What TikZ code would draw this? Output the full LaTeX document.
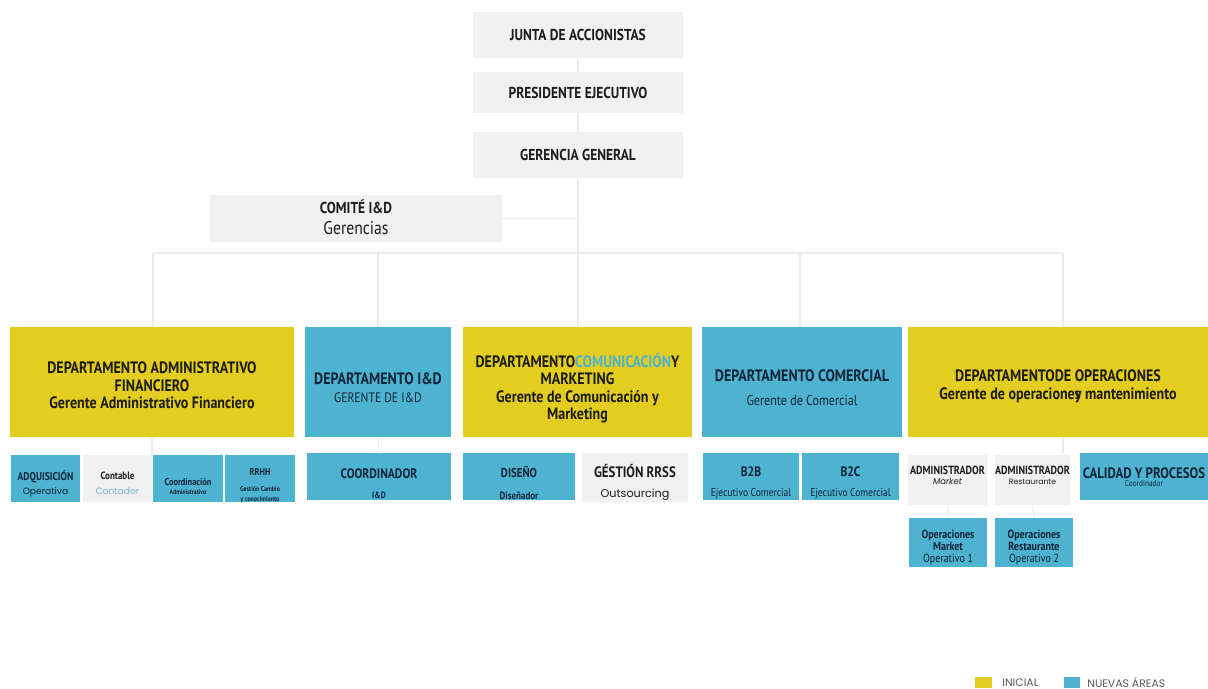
\documentclass[tikz,border=0pt]{standalone}
\usepackage{fontspec}
\setmainfont[FakeStretch=0.85]{PT Sans}
\newfontfamily\geo{Poppins}
\usetikzlibrary{fit}
\definecolor{yel}{RGB}{227,205,32}
\definecolor{blu}{RGB}{77,179,209}
\definecolor{gry}{RGB}{241,241,241}
\definecolor{ink}{RGB}{28,28,28}
\definecolor{navy}{RGB}{20,36,56}
\definecolor{lblue}{RGB}{120,180,210}
\definecolor{legtxt}{RGB}{90,90,90}
\begin{document}
\begin{tikzpicture}[x=0.02cm,y=-0.02cm,
  box/.style={inner sep=0pt},
  gbox/.style={box, fill=gry},
  ybox/.style={box, fill=yel},
  bbox/.style={box, fill=blu},
  txt/.style={inner sep=0pt, align=center, text=ink},
  btxt/.style={txt, text=navy},
  topf/.style={font=\bfseries\fontsize{9}{10}\selectfont},
  conn/.style={draw=black!8, line width=0.6pt},
  legtext/.style={inner sep=0pt, anchor=west, text=legtxt, font=\geo\fontsize{6.2}{7}\selectfont}]
\useasboundingbox (0,0) rectangle (1208,689);
\fill[white] (0,0) rectangle (1208,689);

% ---------- boxes ----------
\node[gbox, fit={(473,12)(683,58)}] (junta) {};
\node[gbox, fit={(473,72)(683,113)}] (pres) {};
\node[gbox, fit={(473,132)(683,178)}] (ger) {};
\node[gbox, fit={(210,195)(502,242)}] (comite) {};

\node[ybox, fit={(10,327)(294,437)}] (adm) {};
\node[bbox, fit={(305,327)(451,437)}] (ide) {};
\node[ybox, fit={(463,327)(692,437)}] (com) {};
\node[bbox, fit={(702,327)(902,437)}] (cml) {};
\node[ybox, fit={(908,327)(1208,437)}] (ope) {};

\node[bbox, fit={(11,455)(80,502)}] (adq) {};
\node[gbox, fit={(83,455)(152,502)}] (cont) {};
\node[bbox, fit={(153,455)(223,502)}] (coad) {};
\node[bbox, fit={(225,455)(295,502)}] (rrhh) {};
\node[bbox, fit={(307,453)(451,500)}] (cid) {};
\node[bbox, fit={(463,453)(575,500)}] (dis) {};
\node[gbox, fit={(582,453)(688,502)}] (rrss) {};
\node[bbox, fit={(703,453)(799,500)}] (b2b) {};
\node[bbox, fit={(802,453)(899,500)}] (b2c) {};
\node[gbox, fit={(908,455)(987,505)}] (amk) {};
\node[gbox, fit={(995,455)(1070,505)}] (ars) {};
\node[bbox, fit={(1080,453)(1208,500)}] (cal) {};
\node[bbox, fit={(909,518)(987,567)}] (omk) {};
\node[bbox, fit={(995,518)(1073,567)}] (ors) {};

% ---------- texts ----------
\node[txt, topf] (juntaT) at (578,35) {JUNTA DE ACCIONISTAS};
\node[txt, topf] (presT) at (578,92.5) {PRESIDENTE EJECUTIVO};
\node[txt, topf] (gerT) at (578,155) {GERENCIA GENERAL};
\node[txt, font=\bfseries\fontsize{9}{11.8}\selectfont] (comiteT) at (356,217) {COMITÉ I\&D\\{\mdseries\fontsize{10.5}{11}\selectfont Gerencias}};

\node[txt, font=\bfseries\fontsize{9.4}{10}\selectfont] (admT) at (152,385.5) {DEPARTAMENTO ADMINISTRATIVO\\FINANCIERO\\Gerente Administrativo Financiero};
\node[btxt, font=\bfseries\fontsize{9.4}{10.6}\selectfont] (ideT) at (378,387.5) {DEPARTAMENTO I\&D\\{\mdseries\fontsize{7.8}{9}\selectfont GERENTE DE I\&D}};
\node[txt, font=\bfseries\fontsize{9.4}{9.8}\selectfont] (comT) at (577.5,388) {DEPARTAMENTO\textcolor{blu}{COMUNICACIÓN}Y\\MARKETING\\Gerente de Comunicación y\\Marketing};
\node[btxt, font=\bfseries\fontsize{9.4}{13.7}\selectfont] (cmlT) at (802,387.5) {DEPARTAMENTO COMERCIAL\\{\mdseries\fontsize{8.1}{9}\selectfont Gerente de Comercial}};
\node[txt, font=\bfseries\fontsize{9.4}{10.2}\selectfont] (opeT) at (1058,386) {DEPARTAMENTODE OPERACIONES\\Gerente de operacione\rlap{s}y mantenimiento};

\node[btxt, font=\bfseries\fontsize{6.4}{8}\selectfont] (adqT) at (45.5,483.5) {ADQUISICIÓN\\{\geo\mdseries\fontsize{5.2}{6}\selectfont Operativa}};
\node[txt, font=\bfseries\fontsize{6}{8.6}\selectfont] (contT) at (117.5,483) {Contable\\{\geo\mdseries\color{lblue}\fontsize{5.2}{6}\selectfont Contador}};
\node[btxt, font=\bfseries\fontsize{5.6}{4.6}\selectfont] (coadT) at (188,486.5) {Coordinación\\{\fontsize{3.9}{4}\selectfont Administrativo}};
\node[btxt, font=\bfseries\fontsize{5.6}{5.7}\selectfont] (rrhhT) at (260,485.5) {RRHH\\[3.4pt]{\fontsize{4}{4.5}\selectfont Gestión Cambio}\\{\fontsize{4}{4.5}\selectfont y conocimiento}};
\node[btxt, font=\bfseries\fontsize{7.8}{11.5}\selectfont] (cidT) at (379,484) {COORDINADOR\\{\fontsize{5.2}{6}\selectfont I\&D}};
\node[btxt, font=\bfseries\fontsize{7.3}{12.5}\selectfont] (disT) at (519,483.5) {DISEÑO\\{\fontsize{6}{6}\selectfont Diseñador}};
\node[txt, font=\bfseries\fontsize{8.6}{11.2}\selectfont] (rrssT) at (635,482.5) {GÉSTIÓN RRSS\\{\geo\mdseries\fontsize{6.4}{7}\selectfont Outsourcing}};
\node[btxt, font=\bfseries\fontsize{7.8}{11.5}\selectfont] (b2bT) at (751,482.5) {B2B\\{\mdseries\fontsize{6.4}{7}\selectfont Ejecutivo Comercial}};
\node[btxt, font=\bfseries\fontsize{7.8}{11.5}\selectfont] (b2cT) at (850.5,482.5) {B2C\\{\mdseries\fontsize{6.4}{7}\selectfont Ejecutivo Comercial}};
\node[txt, font=\bfseries\fontsize{6.7}{5.8}\selectfont] (amkT) at (947.5,475.5) {ADMINISTRADOR\\{\geo\mdseries\itshape\fontsize{4.8}{5}\selectfont Market}};
\node[txt, font=\bfseries\fontsize{6.7}{5.8}\selectfont] (arsT) at (1032.5,475.5) {ADMINISTRADOR\\{\geo\mdseries\fontsize{4.4}{5}\selectfont Restaurante}};
\node[btxt, font=\bfseries\fontsize{8.6}{4.6}\selectfont] (calT) at (1144,477) {CALIDAD Y PROCESOS\\{\mdseries\fontsize{4.9}{5}\selectfont Coordinador}};
\node[btxt, font=\bfseries\fontsize{6.7}{7.1}\selectfont] (omkT) at (948,547.5) {Operaciones\\Market\\{\mdseries Operativo 1}};
\node[btxt, font=\bfseries\fontsize{6.7}{7.1}\selectfont] (orsT) at (1034,547.5) {Operaciones\\Restaurante\\{\mdseries Operativo 2}};

% ---------- connectors ----------
\coordinate (busL) at (153,253);
\coordinate (busI) at (378,253);
\coordinate (busM) at (578,253);
\coordinate (busC) at (800,253);
\coordinate (busR) at (1063,253);
\coordinate (opeS) at (1063,437);
\coordinate (subO) at (1063,453);
\draw[conn] (junta.south) -- (pres.north);
\draw[conn] (pres.south) -- (ger.north);
\draw[conn] (ger.south) -- (busM);
\draw[conn] (comite.east) -- (comite.east -| busM);
\draw[conn] (busL) -- (busR);
\draw[conn] (busL) -- (busL |- adm.north);
\draw[conn] (busI) -- (busI |- ide.north);
\draw[conn] (busM) -- (busM |- com.north);
\draw[conn] (busC) -- (busC |- cml.north);
\draw[conn] (busR) -- (busR |- ope.north);
\draw[conn] (adm.south) -- (adm.south |- coad.north);
\draw[conn] (ide.south) -- (cid.north);
\draw[conn] (opeS) -- (subO);
\draw[conn] (amk.south) -- (omk.north);
\draw[conn] (ars.south) -- (ors.north);

% ---------- legend ----------
\node[box, fill=yel, fit={(975,677)(992,688)}] (lgy) {};
\node[legtext] (lgyt) at (1002,682.5) {INICIAL};
\node[box, fill=blu, fit={(1064,677)(1080,688)}] (lgb) {};
\node[legtext] (lgbt) at (1087,682.5) {NUEVAS ÁREAS};
\end{tikzpicture}
\end{document}
